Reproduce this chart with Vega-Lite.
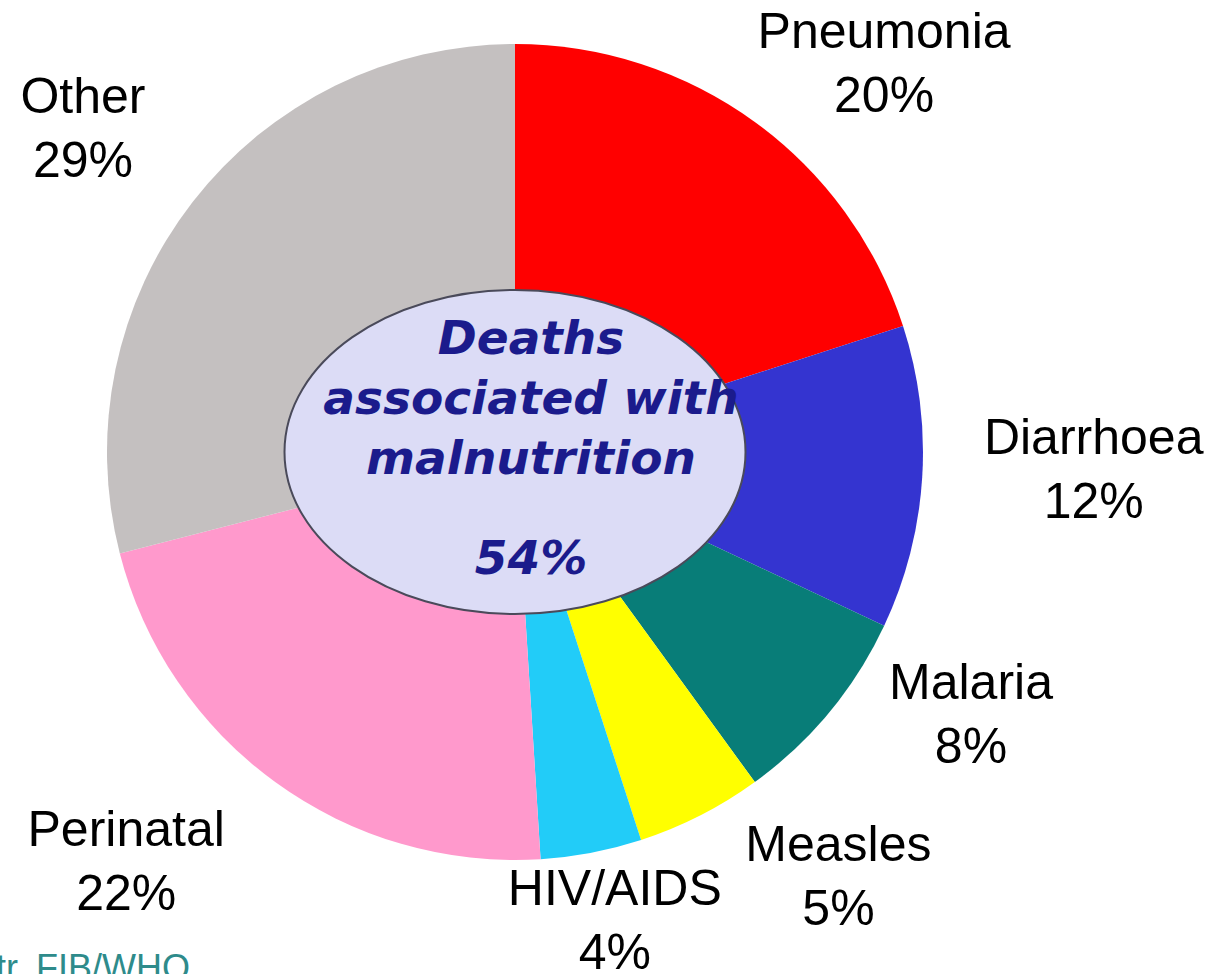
{
  "$schema": "https://vega.github.io/schema/vega-lite/v6.json",
  "width": 1030,
  "height": 904,
  "autosize": "none",
  "padding": {"left": 0, "top": 0, "right": 185, "bottom": 70},
  "background": "white",
  "config": {"view": {"stroke": null}},
  "data": {
    "values": [
      {"cause": "Pneumonia", "pct": 20, "rank": 1, "label": "Pneumonia\n20%"},
      {"cause": "Diarrhoea", "pct": 12, "rank": 2, "label": "Diarrhoea\n12%"},
      {"cause": "Malaria", "pct": 8, "rank": 3, "label": "Malaria\n8%"},
      {"cause": "Measles", "pct": 5, "rank": 4, "label": "Measles\n5%"},
      {"cause": "HIV/AIDS", "pct": 4, "rank": 5, "label": "HIV/AIDS\n4%"},
      {"cause": "Perinatal", "pct": 22, "rank": 6, "label": "Perinatal\n22%"},
      {"cause": "Other", "pct": 29, "rank": 7, "label": "Other\n29%"}
    ]
  },
  "layer": [
    {
      "mark": {"type": "arc", "outerRadius": 408, "stroke": null},
      "encoding": {
        "theta": {"field": "pct", "type": "quantitative", "stack": true},
        "order": {"field": "rank", "type": "quantitative"},
        "color": {
          "field": "cause",
          "type": "nominal",
          "legend": null,
          "scale": {
            "domain": ["Pneumonia", "Diarrhoea", "Malaria", "Measles", "HIV/AIDS", "Perinatal", "Other"],
            "range": ["#FF0000", "#3434D0", "#087D78", "#FFFF00", "#22CCF8", "#FF99CC", "#C4C0C0"]
          }
        }
      }
    },
    {
      "data": {"values": [{"item": "centre"}]},
      "mark": {
        "type": "point",
        "shape": "M -1 0 A 1 0.703 0 1 1 1 0 A 1 0.703 0 1 1 -1 0 Z",
        "size": 212521,
        "filled": true,
        "fill": "#DCDCF6",
        "stroke": "#4A4A5A",
        "strokeWidth": 2,
        "opacity": 1,
        "fillOpacity": 1
      },
      "encoding": {}
    },
    {
      "data": {"values": [{"t": "Deaths\nassociated with\nmalnutrition"}]},
      "mark": {
        "type": "text",
        "font": "DejaVu Sans",
        "fontWeight": "bold",
        "fontStyle": "italic",
        "fontSize": 47,
        "lineBreak": "\n",
        "lineHeight": 60,
        "baseline": "alphabetic",
        "align": "center",
        "dx": 16,
        "dy": -98,
        "color": "#1B1B8C"
      },
      "encoding": {"text": {"field": "t"}}
    },
    {
      "data": {"values": [{"t": "54%"}]},
      "mark": {
        "type": "text",
        "font": "DejaVu Sans",
        "fontWeight": "bold",
        "fontStyle": "italic",
        "fontSize": 47,
        "baseline": "alphabetic",
        "align": "center",
        "dx": 16,
        "dy": 122,
        "color": "#1B1B8C"
      },
      "encoding": {"text": {"field": "t"}}
    },
    {
      "data": {"values": [{"t": "tr. FIB/WHO"}]},
      "mark": {
        "type": "text",
        "font": "Liberation Sans",
        "fontSize": 36,
        "baseline": "top",
        "align": "left",
        "dx": -519,
        "dy": 500,
        "color": "#2E8B8B"
      },
      "encoding": {"text": {"field": "t"}}
    },
    {
      "mark": {"type": "text", "radius": 535, "thetaOffset": 0.133, "dy": -32, "font": "Liberation Sans", "fontSize": 50, "lineBreak": "\n", "lineHeight": 64, "baseline": "middle", "align": "center", "color": "black"},
      "encoding": {
        "theta": {"field": "pct", "type": "quantitative", "stack": true},
        "order": {"field": "rank", "type": "quantitative"},
        "detail": {"field": "cause", "type": "nominal"},
        "text": {"condition": {"test": "datum.cause === 'Pneumonia'", "field": "label"}, "value": ""}
      }
    },
    {
      "mark": {"type": "text", "radius": 579, "thetaOffset": -0.030, "dy": -32, "font": "Liberation Sans", "fontSize": 50, "lineBreak": "\n", "lineHeight": 64, "baseline": "middle", "align": "center", "color": "black"},
      "encoding": {
        "theta": {"field": "pct", "type": "quantitative", "stack": true},
        "order": {"field": "rank", "type": "quantitative"},
        "detail": {"field": "cause", "type": "nominal"},
        "text": {"condition": {"test": "datum.cause === 'Diarrhoea'", "field": "label"}, "value": ""}
      }
    },
    {
      "mark": {"type": "text", "radius": 527, "thetaOffset": -0.166, "dy": -32, "font": "Liberation Sans", "fontSize": 50, "lineBreak": "\n", "lineHeight": 64, "baseline": "middle", "align": "center", "color": "black"},
      "encoding": {
        "theta": {"field": "pct", "type": "quantitative", "stack": true},
        "order": {"field": "rank", "type": "quantitative"},
        "detail": {"field": "cause", "type": "nominal"},
        "text": {"condition": {"test": "datum.cause === 'Malaria'", "field": "label"}, "value": ""}
      }
    },
    {
      "mark": {"type": "text", "radius": 535, "thetaOffset": -0.178, "dy": -32, "font": "Liberation Sans", "fontSize": 50, "lineBreak": "\n", "lineHeight": 64, "baseline": "middle", "align": "center", "color": "black"},
      "encoding": {
        "theta": {"field": "pct", "type": "quantitative", "stack": true},
        "order": {"field": "rank", "type": "quantitative"},
        "detail": {"field": "cause", "type": "nominal"},
        "text": {"condition": {"test": "datum.cause === 'Measles'", "field": "label"}, "value": ""}
      }
    },
    {
      "mark": {"type": "text", "radius": 480, "thetaOffset": -0.021, "dy": -32, "font": "Liberation Sans", "fontSize": 50, "lineBreak": "\n", "lineHeight": 64, "baseline": "middle", "align": "center", "color": "black"},
      "encoding": {
        "theta": {"field": "pct", "type": "quantitative", "stack": true},
        "order": {"field": "rank", "type": "quantitative"},
        "detail": {"field": "cause", "type": "nominal"},
        "text": {"condition": {"test": "datum.cause === 'HIV/AIDS'", "field": "label"}, "value": ""}
      }
    },
    {
      "mark": {"type": "text", "radius": 566, "thetaOffset": 0.129, "dy": -32, "font": "Liberation Sans", "fontSize": 50, "lineBreak": "\n", "lineHeight": 64, "baseline": "middle", "align": "center", "color": "black"},
      "encoding": {
        "theta": {"field": "pct", "type": "quantitative", "stack": true},
        "order": {"field": "rank", "type": "quantitative"},
        "detail": {"field": "cause", "type": "nominal"},
        "text": {"condition": {"test": "datum.cause === 'Perinatal'", "field": "label"}, "value": ""}
      }
    },
    {
      "mark": {"type": "text", "radius": 539, "thetaOffset": -0.019, "dy": -32, "font": "Liberation Sans", "fontSize": 50, "lineBreak": "\n", "lineHeight": 64, "baseline": "middle", "align": "center", "color": "black"},
      "encoding": {
        "theta": {"field": "pct", "type": "quantitative", "stack": true},
        "order": {"field": "rank", "type": "quantitative"},
        "detail": {"field": "cause", "type": "nominal"},
        "text": {"condition": {"test": "datum.cause === 'Other'", "field": "label"}, "value": ""}
      }
    }
  ]
}
